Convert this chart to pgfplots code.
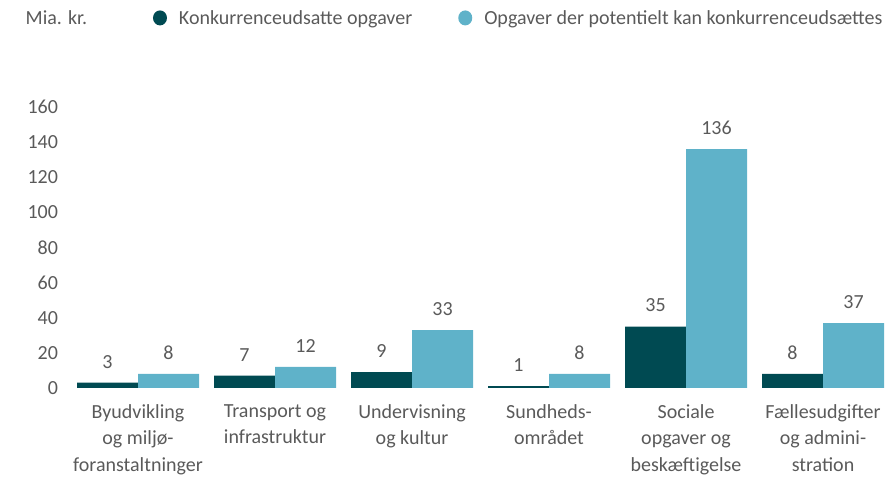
\documentclass[border=0pt]{standalone}
\usepackage{pgfplots}
\pgfplotsset{compat=1.18}
\usepackage{fontspec}
\setmainfont{Carlito}
\definecolor{darkteal}{RGB}{0,74,82}
\definecolor{lightteal}{RGB}{95,178,201}
\definecolor{txtgrey}{RGB}{90,90,90}
\pgfplotsset{/pgf/number format/assume math mode=true}
\begin{document}
\begin{tikzpicture}[font=\fontsize{20}{26.5}\selectfont]
\begin{axis}[
  at={(0pt,0pt)}, anchor=south west,
  scale only axis,
  width=819.3pt, height=281pt,
  xmin=-0.5, xmax=5.48,
  ymin=0, ymax=160,
  ybar=0pt, bar width=61pt,
  axis line style={draw=none},
  major tick length=0pt,
  ytick={0,20,...,160},
  xtick={0,1,2,3,4,5},
  xticklabels={{Byudvikling\\og miljø-\\foranstaltninger},{Transport og\\infrastruktur},{Undervisning\\og kultur},{Sundheds-\\området},{Sociale\\opgaver og\\beskæftigelse},{Fællesudgifter\\og admini-\\stration}},
  xticklabel style={align=center, text=txtgrey, font=\fontsize{20}{26.5}\selectfont, yshift=-13pt},
  yticklabel style={text=txtgrey, font=\fontsize{20}{26.5}\selectfont, xshift=-8pt},
  nodes near coords,
  every node near coord/.append style={text=txtgrey, font=\fontsize{20}{26.5}\selectfont, yshift=11pt},
  legend style={at={(0.098,1.317)}, anchor=west, draw=none, fill=none, legend columns=2,
    font=\fontsize{20}{26.5}\selectfont, text=txtgrey,
    /tikz/every even column/.append style={column sep=44pt}},
  legend image code/.code={\path[#1,draw=none] (7pt,0pt) ellipse (7pt and 7.5pt); \path (24pt,0pt);},
  clip=false,
]
\addplot[fill=darkteal, draw=none] coordinates {(0,3) (1,7) (2,9) (3,1) (4,35) (5,8)};
\addplot[fill=lightteal, draw=none] coordinates {(0,8) (1,12) (2,33) (3,8) (4,136) (5,37)};
\legend{Konkurrenceudsatte opgaver, Opgaver der potentielt kan konkurrenceudsættes}
\end{axis}
\node[anchor=west, text=txtgrey, inner sep=0pt] at (-44pt,370pt) {Mia. kr.};
\path[use as bounding box] (-69.5pt,-89pt) rectangle (820.5pt,388pt);
\end{tikzpicture}
\end{document}
